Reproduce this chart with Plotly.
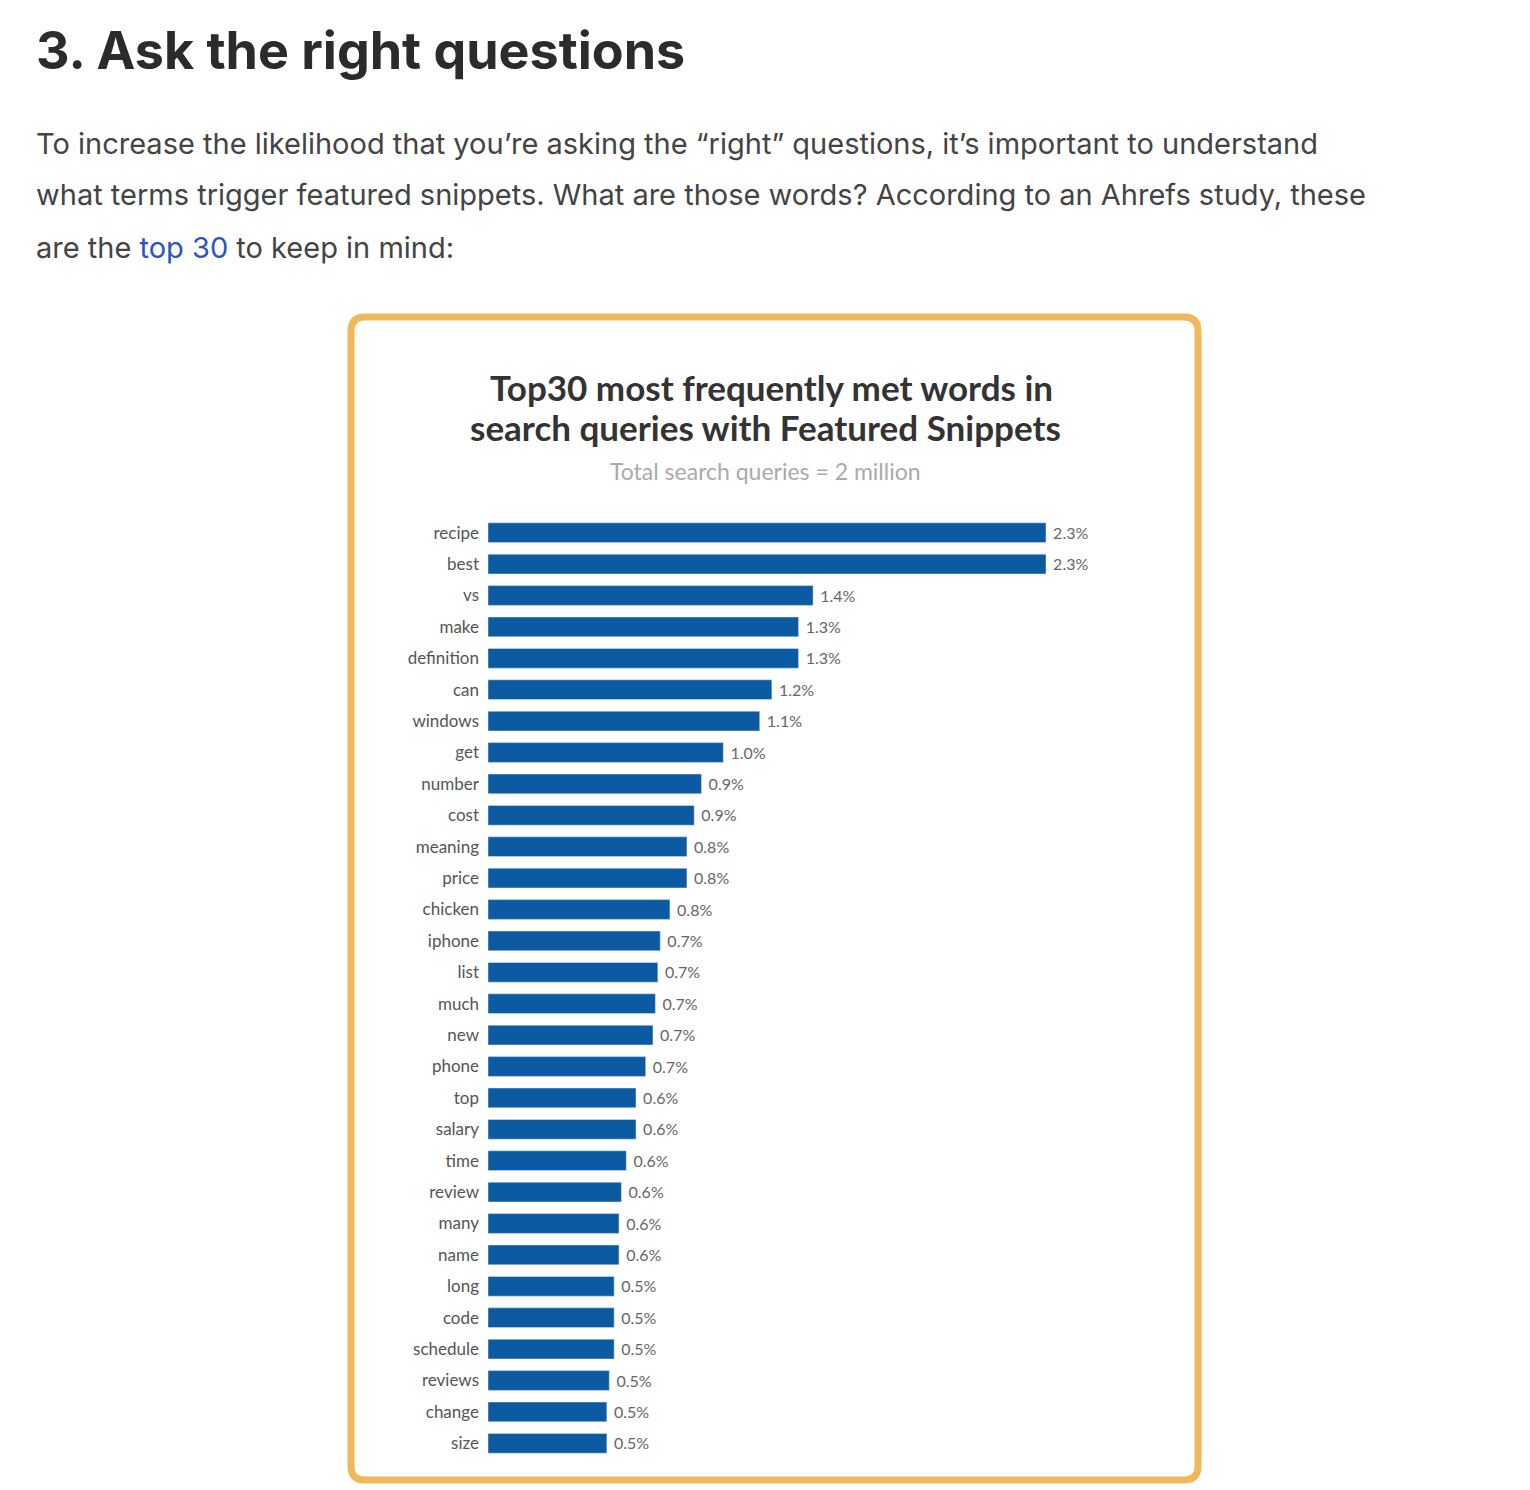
import plotly.graph_objects as go

W, H = 1530, 1490

words = ["recipe", "best", "vs", "make", "definition", "can", "windows", "get",
         "number", "cost", "meaning", "price", "chicken", "iphone", "list", "much",
         "new", "phone", "top", "salary", "time", "review", "many", "name", "long",
         "code", "schedule", "reviews", "change", "size"]
shares = [2.30, 2.30, 1.34, 1.28, 1.28, 1.17, 1.12, 0.97, 0.88, 0.85, 0.82, 0.82,
          0.75, 0.71, 0.70, 0.69, 0.68, 0.65, 0.61, 0.61, 0.57, 0.55, 0.54, 0.54,
          0.52, 0.52, 0.52, 0.50, 0.49, 0.49]
share_labels = ["2.3%", "2.3%", "1.4%", "1.3%", "1.3%", "1.2%", "1.1%", "1.0%",
                "0.9%", "0.9%", "0.8%", "0.8%", "0.8%", "0.7%", "0.7%", "0.7%",
                "0.7%", "0.7%", "0.6%", "0.6%", "0.6%", "0.6%", "0.6%", "0.6%",
                "0.5%", "0.5%", "0.5%", "0.5%", "0.5%", "0.5%"]


def px(x):
    return x / W


def py(y):
    return 1 - y / H


fig = go.Figure(go.Bar(
    x=shares, y=words, orientation="h",
    marker=dict(color="#0b5aa2"),
    text=[" " + s for s in share_labels], textposition="outside",
    textfont=dict(family="Lato", size=17, color="#666"),
    cliponaxis=False, hoverinfo="skip",
))

fig.update_layout(
    width=W, height=H, margin=dict(l=0, r=0, t=0, b=0),
    paper_bgcolor="white", plot_bgcolor="white", showlegend=False,
    bargap=0.37,
    xaxis=dict(domain=[px(480), px(1038)], range=[0, 2.3], visible=False),
    yaxis=dict(domain=[py(1451), py(509)], autorange="reversed",
               showgrid=False, showline=False, ticks="",
               tickfont=dict(family="Lato", size=17, color="#555"), ticklabelstandoff=8),
)

# rounded orange frame
x0, x1, y0, y1, r = px(343), px(1190), py(309), py(1472), 14
rx, ry = r / W, r / H
path = (f"M {x0+rx} {y0} L {x1-rx} {y0} Q {x1} {y0} {x1} {y0-ry} "
        f"L {x1} {y1+ry} Q {x1} {y1} {x1-rx} {y1} L {x0+rx} {y1} "
        f"Q {x0} {y1} {x0} {y1+ry} L {x0} {y0-ry} Q {x0} {y0} {x0+rx} {y0} Z")
fig.add_shape(type="path", path=path, xref="paper", yref="paper",
              line=dict(color="#f0b85a", width=7))

texts = [
    (26, 42, "<b>3. Ask the right questions</b>", 52, "#2b2b2b", "left", "Inter"),
    (26, 135, "To increase the likelihood that you\u2019re asking the \u201cright\u201d questions, it\u2019s important to understand",
     29, "#444", "left", "Inter"),
    (26, 187, "what terms trigger featured snippets. What are those words? According to an Ahrefs study, these",
     29, "#444", "left", "Inter"),
    (26, 239, "are the <span style='color:#2a55c4'>top 30</span> to keep in mind:", 29, "#444", "left", "Inter"),
    (763, 379, "<b>Top30 most frequently met words in</b>", 35, "#333", "center", "Lato"),
    (757, 419, "<b>search queries with Featured Snippets</b>", 35, "#333", "center", "Lato"),
    (757, 463, "Total search queries = 2 million", 23, "#aaa", "center", "Lato"),
]
for x, y, t, s, c, a, f in texts:
    fig.add_annotation(x=px(x), y=py(y), xref="paper", yref="paper", text=t,
                       showarrow=False, xanchor=a, yanchor="middle",
                       font=dict(family=f, size=s, color=c))

fig.write_html("out.html")
